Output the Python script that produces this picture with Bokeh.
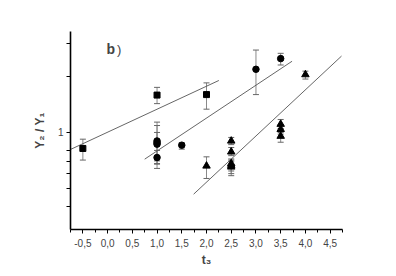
from bokeh.plotting import figure
from bokeh.models import (ColumnDataSource, Whisker, TeeHead, FixedTicker,
                          CustomJSTickFormatter, Label)
from bokeh.embed import file_html
from bokeh.resources import INLINE

# --- data ---
sq_t = [-0.5, 1.0, 2.0]
sq_y = [0.82, 1.59, 1.60]
sq_lo = [0.71, 1.43, 1.335]
sq_hi = [0.92, 1.75, 1.85]

ci_t = [1.0, 1.0, 1.0, 1.0, 1.5, 3.0, 3.5]
ci_y = [0.90, 0.88, 0.865, 0.733, 0.854, 2.19, 2.50]
ci_lo = [0.64, 0.675, 0.703, 0.68, 0.813, 1.60, 2.31]
ci_hi = [1.137, 1.09, 1.0, 0.80, 0.879, 2.78, 2.67]

tr_t = [2.0, 2.5, 2.5, 2.5, 2.5, 2.5, 3.5, 3.5, 3.5, 4.0]
tr_y = [0.66, 0.90, 0.786, 0.68, 0.666, 0.652, 1.108, 1.04, 0.955, 2.05]
tr_lo = [0.565, 0.86, 0.75, 0.62, 0.60, 0.585, 1.05, 0.98, 0.886, 1.94]
tr_hi = [0.739, 0.94, 0.83, 0.72, 0.71, 0.70, 1.175, 1.10, 1.00, 2.14]

# fit lines (endpoints)
fit1_t = [-0.75, 2.25]
fit1_y = [0.81, 1.906]
fit2_t = [0.75, 3.73]
fit2_y = [0.718, 2.42]
fit3_t = [1.74, 4.73]
fit3_y = [0.465, 2.58]

x_major = [-0.5, 0.0, 0.5, 1.0, 1.5, 2.0, 2.5, 3.0, 3.5, 4.0, 4.5]
x_minor = [-0.75, -0.25, 0.25, 0.75, 1.25, 1.75, 2.25, 2.75, 3.25, 3.75, 4.25, 4.75]
y_major = [1]
y_minor = [0.4, 0.5, 0.6, 0.7, 0.8, 2, 3]

p = figure(frame_width=272, frame_height=198, x_range=(-0.75, 4.75), y_range=(0.3, 3.5),
           y_axis_type="log", output_backend="svg", toolbar_location=None,
           min_border_left=70, min_border_top=31, min_border_right=40,
           min_border_bottom=40)
p.outline_line_color = None
p.xgrid.visible = False
p.ygrid.visible = False
p.background_fill_color = "white"
p.border_fill_color = "white"

err_color = "#8a8a8a"


def add_err(t, lo, hi):
    src = ColumnDataSource(dict(x=t, lo=lo, hi=hi))
    w = Whisker(source=src, base="x", lower="lo", upper="hi",
                line_color=err_color, line_width=1,
                upper_head=TeeHead(size=6, line_color="#666666", line_width=1),
                lower_head=TeeHead(size=6, line_color="#666666", line_width=1))
    p.add_layout(w)


add_err(sq_t, sq_lo, sq_hi)
add_err(ci_t, ci_lo, ci_hi)
add_err(tr_t, tr_lo, tr_hi)

for ft, fy in [(fit1_t, fit1_y), (fit2_t, fit2_y), (fit3_t, fit3_y)]:
    p.line(ft, fy, line_color="#555555", line_width=0.9)

p.scatter(sq_t, sq_y, marker="square", size=6, color="black")
p.scatter(ci_t, ci_y, marker="circle", size=6.5, color="black")
p.scatter(tr_t, tr_y, marker="triangle", size=7.5, color="black")

font = "Liberation Sans"

# x axis
xa = p.xaxis[0]
xa.ticker = FixedTicker(ticks=x_major, minor_ticks=x_minor)
xa.formatter = CustomJSTickFormatter(code="return tick.toFixed(1).replace('.', ',');")
xa.axis_label = "t₃"
xa.axis_label_text_font = font
xa.axis_label_text_font_style = "bold"
xa.axis_label_text_font_size = "12px"
xa.axis_label_standoff = 3
xa.major_label_text_font = font
xa.major_label_text_font_size = "10px"
xa.major_label_standoff = 5
xa.axis_line_width = 1.3
xa.major_tick_in = 0
xa.major_tick_out = 4
xa.minor_tick_in = 0
xa.minor_tick_out = 3

# y axis
ya = p.yaxis[0]
ya.ticker = FixedTicker(ticks=y_major, minor_ticks=y_minor)
ya.formatter = CustomJSTickFormatter(code="return String(tick);")
ya.axis_label = "Y₂ / Y₁"
ya.axis_label_text_font = font
ya.axis_label_text_font_style = "bold"
ya.axis_label_text_font_size = "12px"
ya.axis_label_standoff = 8
ya.major_label_text_font = font
ya.major_label_text_font_size = "10px"
ya.major_label_standoff = 3
ya.axis_line_width = 1.6
ya.major_tick_in = 0
ya.major_tick_out = 4
ya.minor_tick_in = 0
ya.minor_tick_out = 4

p.add_layout(Label(x=-0.02, y=2.55, text="b", text_font=font,
                   text_font_style="bold", text_font_size="14px"))
p.add_layout(Label(x=0.19, y=2.55, text=")", text_font=font,
                   text_font_size="13px"))

open("out.html", "w").write(file_html(p, INLINE))
